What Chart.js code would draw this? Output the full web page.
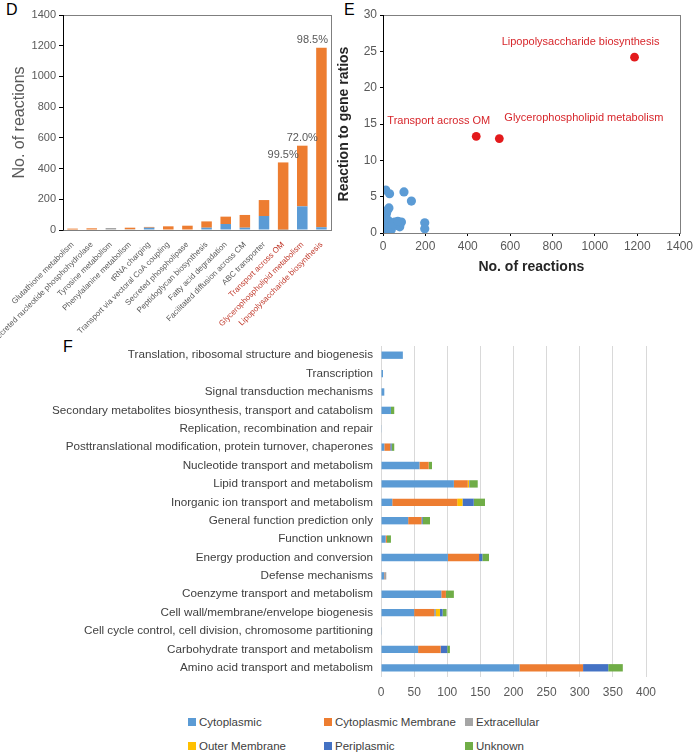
<!DOCTYPE html>
<html>
<head>
<meta charset="utf-8">
<script src="https://cdn.jsdelivr.net/npm/chart.js@4/dist/chart.umd.min.js"></script>
<style>
  body { margin: 0; width: 696px; height: 752px; background: #fff; position: relative; overflow: hidden;
         font-family: 'Liberation Sans', sans-serif; }
  canvas { position: absolute; }
  .panel { position: absolute; font-size: 16px; color: #000; line-height: 1; }
  #legend { position: absolute; left: 188px; top: 714px; width: 440px; display: grid;
            grid-template-columns: 136px 141px 150px; grid-auto-rows: 24px; font-size: 11.5px; color: #404040;
            white-space: nowrap; line-height: 16px; }
  #legend span.sw { display: inline-block; width: 8px; height: 8px; margin-right: 3px; }
</style>
</head>
<body>
<div class="panel" style="left:6px;top:2px">D</div>
<div class="panel" style="left:344px;top:2px">E</div>
<div class="panel" style="left:63px;top:339px">F</div>

<canvas id="chartD" width="352" height="340" style="left:0;top:0"></canvas>
<canvas id="chartE" width="366" height="280" style="left:330px;top:0"></canvas>
<canvas id="chartF" width="696" height="370" style="left:0;top:338px"></canvas>
<div id="legend"></div>

<script>
var FONT = "'Liberation Sans', sans-serif";
var BLUE = '#5B9BD5', ORANGE = '#ED7D31', GREY = '#A5A5A5', YELLOW = '#FFC000', DKBLUE = '#4472C4', GREEN = '#70AD47';
var RED_TEXT = '#C0392B';

// ---- Panel D data ----
var dCategories = ['Glutathione metabolism', 'Secreted nucleotide phosphohydrolase', 'Tyrosine metabolism',
    'Phenylalanine metabolism', 'tRNA charging', 'Transport via vectoral CoA coupling', 'Secreted phospholipase',
    'Peptidoglycan biosynthesis', 'Fatty acid degradation', 'Facilitated diffusion across CM', 'ABC transporter',
    'Transport across OM', 'Glycerophospholipid metabolism', 'Lipopolysaccharide biosynthesis'];
var dBlue   = [0, 0, 0, 0, 15, 0, 0, 15, 39, 15, 91, 2, 154, 18];
var dGrey   = [3, 0, 13, 5, 0, 0, 0, 0, 0, 0, 0, 0, 0, 0];
var dOrange = [6, 11, 0, 10, 5, 24, 28, 41, 48, 83, 104, 438, 395, 1169];
var dPercent = ['', '', '', '', '', '', '', '', '', '', '', '99.5%', '72.0%', '98.5%'];
var dHighlighted = [11, 12, 13];
var dYTicks = { min: 0, max: 1400, step: 200 };

// ---- Panel E data ----
var eBlueX = [13, 31, 99, 134, 28, 0, 16, 8, 24, 0, 0, 16, 39, 63, 79, 87, 55, 197, 197, 8, 31, 0, 19, 13, 3, 45, 70];
var eBlueY = [5.9, 5.4, 5.65, 4.4, 3.45, 3.0, 2.65, 2.2, 1.75, 1.5, 0.6, 0.37, 0.45, 1.05, 0.85, 1.5, 1.5, 1.4, 0.6, 0.15, 1.3, 1.05, 3.0, 1.95, 0.0, 1.2, 1.6];
var eRedX = [440, 549, 1187];
var eRedY = [13.3, 13.0, 24.2];
var eRedNames = ['Transport across OM', 'Glycerophospholipid metabolism', 'Lipopolysaccharide biosynthesis'];

// ---- Panel F data ----
var fCategories = ['Translation, ribosomal structure and biogenesis', 'Transcription', 'Signal transduction mechanisms',
    'Secondary metabolites biosynthesis, transport and catabolism', 'Replication, recombination and repair',
    'Posttranslational modification, protein turnover, chaperones', 'Nucleotide transport and metabolism',
    'Lipid transport and metabolism', 'Inorganic ion transport and metabolism', 'General function prediction only',
    'Function unknown', 'Energy production and conversion', 'Defense mechanisms', 'Coenzyme transport and metabolism',
    'Cell wall/membrane/envelope biogenesis', 'Cell cycle control, cell division, chromosome partitioning',
    'Carbohydrate transport and metabolism', 'Amino acid transport and metabolism'];
var fSeriesNames = ['Cytoplasmic', 'Cytoplasmic Membrane', 'Extracellular', 'Outer Membrane', 'Periplasmic', 'Unknown'];
var fCytoplasmic   = [33, 3, 5, 15, 1, 5, 58, 110, 17, 41, 7, 101, 5, 91, 50, 0.5, 56, 209];
var fCytoMembrane  = [0, 0, 0, 0, 0, 9, 14, 21, 98, 20, 2, 47, 1, 7, 30, 0, 34, 96];
var fExtracellular = [0, 0, 0, 0, 0, 0, 0, 0, 0, 0, 0, 0, 2, 0, 3, 0, 0, 0];
var fOuterMembrane = [0, 0, 0, 0, 0, 0, 0, 2, 8, 0, 0, 0, 0, 0, 6, 0, 0, 0];
var fPeriplasmic   = [0, 0, 0, 0, 0, 2, 0, 1, 17, 2, 0, 5, 0, 0, 4, 0, 10, 38];
var fUnknown       = [0, 0, 0, 5, 0, 4, 5, 12, 17, 11, 6, 10, 0, 12, 6, 0, 4, 22];
var fXTicks = { min: 0, max: 400, step: 50 };

Chart.defaults.font.family = FONT;
Chart.defaults.animation = false;

// plain numbers, no thousands separator
function plain(v) { return String(v); }

// box around the plot area (grey frame, black left axis)
var framePlugin = {
    id: 'frame',
    afterDatasetsDraw: function(chart) {
        var a = chart.chartArea, c = chart.ctx;
        c.save();
        c.lineWidth = 1;
        c.strokeStyle = '#7F7F7F';
        c.strokeRect(Math.round(a.left) + 0.5, Math.round(a.top) + 0.5, Math.round(a.right - a.left), Math.round(a.bottom - a.top));
        c.strokeStyle = '#000';
        c.beginPath();
        c.moveTo(Math.round(a.left) + 0.5, a.top);
        c.lineTo(Math.round(a.left) + 0.5, a.bottom + 0.5);
        c.stroke();
        c.restore();
    }
};

// ---- Chart D ----
var pctPlugin = {
    id: 'pct',
    afterDatasetsDraw: function(chart) {
        var c = chart.ctx, meta = chart.getDatasetMeta(2), area = chart.chartArea;
        c.save();
        c.font = '11px ' + FONT;
        c.fillStyle = '#595959';
        c.textAlign = 'center';
        c.textBaseline = 'bottom';
        dPercent.forEach(function(txt, i) {
            if (!txt) return;
            var el = meta.data[i];
            var w = c.measureText(txt).width;
            var x = Math.min(el.x, area.right - 3 - w / 2);
            c.fillText(txt, x, el.y - 2);
        });
        c.restore();
    }
};

new Chart(document.getElementById('chartD'), {
    type: 'bar',
    data: {
        labels: dCategories,
        datasets: [
            { data: dBlue, backgroundColor: BLUE },
            { data: dGrey, backgroundColor: GREY },
            { data: dOrange, backgroundColor: ORANGE }
        ]
    },
    options: {
        responsive: false,
        devicePixelRatio: 1,
        layout: { padding: { top: 15, right: 21 } },
        datasets: { bar: { barPercentage: 0.55, categoryPercentage: 1 } },
        plugins: { legend: { display: false }, tooltip: { enabled: false } },
        scales: {
            x: {
                stacked: true,
                grid: { display: false },
                border: { display: true, color: '#595959' },
                ticks: {
                    autoSkip: false, minRotation: 45, maxRotation: 45, padding: 2,
                    font: { size: 8 },
                    color: function(ctx) { return dHighlighted.indexOf(ctx.index) >= 0 ? RED_TEXT : '#595959'; }
                },
                afterFit: function(s) { s.height = 110; }
            },
            y: {
                stacked: true, min: dYTicks.min, max: dYTicks.max,
                ticks: { stepSize: dYTicks.step, color: '#595959', font: { size: 11 }, padding: 3, callback: plain },
                grid: { drawOnChartArea: false, tickLength: 4, color: '#000' },
                border: { color: '#000' },
                title: { display: true, text: 'No. of reactions', color: '#595959', font: { size: 16 }, padding: { top: 10 } },
                afterFit: function(s) { s.width = 63; }
            }
        }
    },
    plugins: [framePlugin, pctPlugin]
});

// ---- Chart E ----
var redLabelPlugin = {
    id: 'redLabels',
    afterDatasetsDraw: function(chart) {
        var c = chart.ctx, meta = chart.getDatasetMeta(1);
        // text offsets from each point: [dx, dy, align]
        var offs = [[14, -15, 'right'], [5, -21, 'left'], [-54, -15, 'center']];
        c.save();
        c.font = '11px ' + FONT;
        c.fillStyle = '#D7262B';
        c.textBaseline = 'middle';
        eRedNames.forEach(function(name, i) {
            var el = meta.data[i];
            c.textAlign = offs[i][2];
            c.fillText(name, el.x + offs[i][0], el.y + offs[i][1]);
        });
        c.restore();
    }
};

new Chart(document.getElementById('chartE'), {
    type: 'scatter',
    data: {
        datasets: [
            { data: eBlueX.map(function(x, i) { return { x: x, y: eBlueY[i] }; }),
              backgroundColor: BLUE, borderWidth: 0, pointRadius: 4.6 },
            { data: eRedX.map(function(x, i) { return { x: x, y: eRedY[i] }; }),
              backgroundColor: '#E31A1C', borderWidth: 0, pointRadius: 4.4 }
        ]
    },
    options: {
        responsive: false,
        devicePixelRatio: 1,
        layout: { padding: { top: 15, right: 16 } },
        plugins: { legend: { display: false }, tooltip: { enabled: false } },
        scales: {
            x: {
                type: 'linear', min: 0, max: 1400,
                ticks: { stepSize: 200, color: '#595959', font: { size: 12 }, padding: 3, callback: plain },
                grid: { drawOnChartArea: false, tickLength: 3, color: '#000' },
                border: { color: '#000' },
                title: { display: true, text: 'No. of reactions', color: '#262626', font: { size: 14, weight: 'bold' }, padding: { top: 3 } },
                afterFit: function(s) { s.height = 47; }
            },
            y: {
                min: 0, max: 30,
                ticks: { stepSize: 5, color: '#595959', font: { size: 12 }, padding: 3, callback: plain },
                grid: { drawOnChartArea: false, tickLength: 3, color: '#000' },
                border: { color: '#000' },
                title: { display: true, text: 'Reaction to gene ratios', color: '#262626', font: { size: 14, weight: 'bold' }, padding: { top: 6 } },
                afterFit: function(s) { s.width = 53; }
            }
        }
    },
    plugins: [framePlugin, redLabelPlugin]
});

// ---- Chart F ----
var fColors = [BLUE, ORANGE, GREY, YELLOW, DKBLUE, GREEN];
var fValues = [fCytoplasmic, fCytoMembrane, fExtracellular, fOuterMembrane, fPeriplasmic, fUnknown];

new Chart(document.getElementById('chartF'), {
    type: 'bar',
    data: {
        labels: fCategories,
        datasets: fSeriesNames.map(function(name, i) {
            return { label: name, data: fValues[i], backgroundColor: fColors[i] };
        })
    },
    options: {
        indexAxis: 'y',
        responsive: false,
        devicePixelRatio: 1,
        layout: { padding: { top: 8, right: 50 } },
        datasets: { bar: { barPercentage: 0.4, categoryPercentage: 1 } },
        plugins: { legend: { display: false }, tooltip: { enabled: false } },
        scales: {
            x: {
                stacked: true, min: fXTicks.min, max: fXTicks.max,
                ticks: { stepSize: fXTicks.step, color: '#595959', font: { size: 12 }, padding: 8 },
                grid: { color: '#D9D9D9', drawTicks: false },
                border: { display: false },
                afterFit: function(s) { s.height = 31; }
            },
            y: {
                stacked: true,
                grid: { display: false },
                border: { display: false },
                ticks: { color: '#404040', font: { size: 11.7 }, padding: 0, autoSkip: false },
                afterFit: function(s) { s.width = 381; }
            }
        }
    }
});

// legend for panel F
var legend = document.getElementById('legend');
fSeriesNames.forEach(function(name, i) {
    var item = document.createElement('div');
    item.innerHTML = '<span class="sw" style="background:' + fColors[i] + '"></span>' + name;
    legend.appendChild(item);
});
</script>
</body>
</html>
